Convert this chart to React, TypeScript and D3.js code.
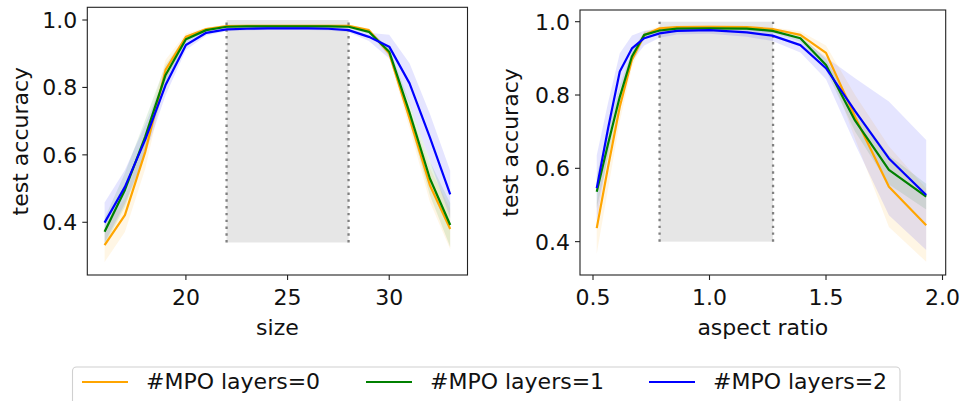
import React from "react";
import * as d3 from "d3";

// ---------- data ----------
const sizes = [16, 17, 18, 19, 20, 21, 22, 23, 24, 25, 26, 27, 28, 29, 30, 31, 32, 33];
const sizeL0 = [0.332, 0.421, 0.609, 0.852, 0.95, 0.973, 0.982, 0.983, 0.983, 0.983, 0.983, 0.983, 0.983, 0.970, 0.901, 0.708, 0.51, 0.38];
const sizeL1 = [0.372, 0.496, 0.654, 0.837, 0.943, 0.970, 0.980, 0.981, 0.981, 0.981, 0.981, 0.981, 0.980, 0.965, 0.906, 0.725, 0.53, 0.392];
const sizeL2 = [0.399, 0.505, 0.645, 0.807, 0.926, 0.962, 0.972, 0.974, 0.975, 0.975, 0.975, 0.974, 0.970, 0.95, 0.921, 0.812, 0.652, 0.483];
const sizeS0 = [0.05, 0.05, 0.05, 0.03, 0.01, 0.005, 0.004, 0.004, 0.004, 0.004, 0.004, 0.004, 0.004, 0.005, 0.012, 0.03, 0.05, 0.06];
const sizeS1 = [0.04, 0.05, 0.05, 0.03, 0.01, 0.005, 0.004, 0.004, 0.004, 0.004, 0.004, 0.004, 0.004, 0.005, 0.012, 0.03, 0.05, 0.065];
const sizeS2 = [0.06, 0.05, 0.045, 0.03, 0.015, 0.008, 0.005, 0.005, 0.005, 0.005, 0.005, 0.005, 0.006, 0.012, 0.035, 0.06, 0.07, 0.07];

const ratios = [0.516, 0.565, 0.615, 0.667, 0.72, 0.786, 0.86, 1.0, 1.16, 1.27, 1.39, 1.5, 1.625, 1.77, 1.93];
const ratioL0 = [0.437, 0.605, 0.768, 0.896, 0.964, 0.982, 0.985, 0.986, 0.985, 0.98, 0.964, 0.915, 0.74, 0.55, 0.445];
const ratioL1 = [0.536, 0.668, 0.795, 0.905, 0.964, 0.976, 0.981, 0.982, 0.981, 0.975, 0.955, 0.882, 0.73, 0.596, 0.523];
const ratioL2 = [0.546, 0.71, 0.864, 0.927, 0.955, 0.968, 0.975, 0.977, 0.971, 0.962, 0.936, 0.873, 0.756, 0.627, 0.527];
const ratioS0 = [0.07, 0.06, 0.04, 0.02, 0.01, 0.005, 0.004, 0.004, 0.004, 0.005, 0.01, 0.02, 0.06, 0.11, 0.10];
const ratioS1 = [0.045, 0.04, 0.03, 0.015, 0.008, 0.005, 0.004, 0.004, 0.004, 0.005, 0.01, 0.015, 0.03, 0.04, 0.035];
const ratioS2 = [0.09, 0.07, 0.05, 0.035, 0.02, 0.012, 0.01, 0.01, 0.012, 0.015, 0.02, 0.03, 0.09, 0.155, 0.15];

const seriesNames = ["#MPO layers=0", "#MPO layers=1", "#MPO layers=2"];
const seriesColors = ["orange", "green", "blue"];

const sizeTicks = [20, 25, 30];
const ratioTicks = [0.5, 1.0, 1.5, 2.0];
const accTicks = [0.4, 0.6, 0.8, 1.0];

const sizeShade = [22, 28, 0.34, 1.0];
const ratioShade = [22 / 28, 28 / 22, 0.4, 1.0];

const FONT = "DejaVu Sans, sans-serif";
const FS = 22;

type PanelProps = {
  box: { l: number; r: number; t: number; b: number };
  xDomain: [number, number];
  yDomain: [number, number];
  xs: number[];
  means: number[][];
  stds: number[][];
  xTicks: number[];
  xFmt: (v: number) => string;
  shade: number[];
  xLabel: string;
  yLabelX: number;
};

function Panel(p: PanelProps) {
  const x = d3.scaleLinear().domain(p.xDomain).range([p.box.l, p.box.r]);
  const y = d3.scaleLinear().domain(p.yDomain).range([p.box.b, p.box.t]);
  const line = d3
    .line<number>()
    .x((_, i) => x(p.xs[i]))
    .y((d) => y(d));
  const clipId = "clip" + Math.round(p.box.l);
  const [sx0, sx1, sy0, sy1] = p.shade;
  return (
    <g>
      <defs>
        <clipPath id={clipId}>
          <rect x={p.box.l} y={p.box.t} width={p.box.r - p.box.l} height={p.box.b - p.box.t} />
        </clipPath>
      </defs>
      <g clipPath={`url(#${clipId})`}>
        <rect
          x={x(sx0)}
          y={y(sy1)}
          width={x(sx1) - x(sx0)}
          height={y(sy0) - y(sy1)}
          fill="#808080"
          fillOpacity={0.2}
        />
        {p.means.map((m, si) => {
          const area = d3
            .area<number>()
            .x((_, i) => x(p.xs[i]))
            .y0((d, i) => y(d - p.stds[si][i]))
            .y1((d, i) => y(d + p.stds[si][i]));
          return <path key={"a" + si} d={area(m) || ""} fill={seriesColors[si]} fillOpacity={0.1} stroke="none" />;
        })}
        {[sx0, sx1].map((v, i) => (
          <line
            key={"v" + i}
            x1={x(v)}
            x2={x(v)}
            y1={y(sy0)}
            y2={y(sy1)}
            stroke="#808080"
            strokeWidth={2.3}
            strokeDasharray="2.4,4.4"
          />
        ))}
        {p.means.map((m, si) => (
          <path
            key={"l" + si}
            d={line(m) || ""}
            fill="none"
            stroke={seriesColors[si]}
            strokeWidth={2.2}
            strokeLinejoin="round"
          />
        ))}
      </g>
      <rect
        x={p.box.l}
        y={p.box.t}
        width={p.box.r - p.box.l}
        height={p.box.b - p.box.t}
        fill="none"
        stroke="#222"
        strokeWidth={1.1}
      />
      {p.xTicks.map((t) => (
        <g key={"xt" + t}>
          <line x1={x(t)} x2={x(t)} y1={p.box.b} y2={p.box.b + 5} stroke="#222" strokeWidth={1.1} />
          <text x={x(t)} y={305.3} textAnchor="middle" fontFamily={FONT} fontSize={FS} fill="#111">
            {p.xFmt(t)}
          </text>
        </g>
      ))}
      {accTicks.map((t) => (
        <g key={"yt" + t}>
          <line x1={p.box.l - 5} x2={p.box.l} y1={y(t)} y2={y(t)} stroke="#222" strokeWidth={1.1} />
          <text
            x={p.box.l - 10}
            y={y(t)}
            dy="0.36em"
            textAnchor="end"
            fontFamily={FONT}
            fontSize={FS}
            fill="#111"
          >
            {t.toFixed(1)}
          </text>
        </g>
      ))}
      <text
        x={(p.box.l + p.box.r) / 2}
        y={335}
        textAnchor="middle"
        fontFamily={FONT}
        fontSize={FS}
        fill="#111"
      >
        {p.xLabel}
      </text>
      <text
        transform={`translate(${p.yLabelX},${(p.box.t + p.box.b) / 2}) rotate(-90)`}
        textAnchor="middle"
        fontFamily={FONT}
        fontSize={FS}
        fill="#111"
      >
        test accuracy
      </text>
    </g>
  );
}

export default function App() {
  const legendXs = [82, 366, 649];
  return (
    <svg
      width={961}
      height={401}
      style={{ position: "absolute", left: 0, top: 0, display: "block", background: "#fff" }}
    >
      <rect x={0} y={0} width={961} height={401} fill="#fff" />
      <Panel
        box={{ l: 87.3, r: 467.5, t: 7.3, b: 275 }}
        xDomain={[15.15, 33.85]}
        yDomain={[0.2436, 1.0377]}
        xs={sizes}
        means={[sizeL0, sizeL1, sizeL2]}
        stds={[sizeS0, sizeS1, sizeS2]}
        xTicks={sizeTicks}
        xFmt={(v) => String(v)}
        shade={sizeShade}
        xLabel="size"
        yLabelX={27.5}
      />
      <Panel
        box={{ l: 580, r: 945.7, t: 10, b: 275 }}
        xDomain={[0.4442, 2.0137]}
        yDomain={[0.309, 1.0319]}
        xs={ratios}
        means={[ratioL0, ratioL1, ratioL2]}
        stds={[ratioS0, ratioS1, ratioS2]}
        xTicks={ratioTicks}
        xFmt={(v) => v.toFixed(1)}
        shade={ratioShade}
        xLabel="aspect ratio"
        yLabelX={518}
      />
      <rect x={72.5} y={367} width={827.5} height={60} rx={4} ry={4} fill="#fff" fillOpacity={0.8} stroke="#d0d0d0" strokeWidth={1.1} />
      {seriesNames.map((n, i) => (
        <g key={n}>
          <line x1={legendXs[i]} x2={legendXs[i] + 46} y1={382} y2={382} stroke={seriesColors[i]} strokeWidth={2.2} />
          <text x={legendXs[i] + 64} y={389} fontFamily={FONT} fontSize={FS} fill="#111">
            {n}
          </text>
        </g>
      ))}
    </svg>
  );
}
